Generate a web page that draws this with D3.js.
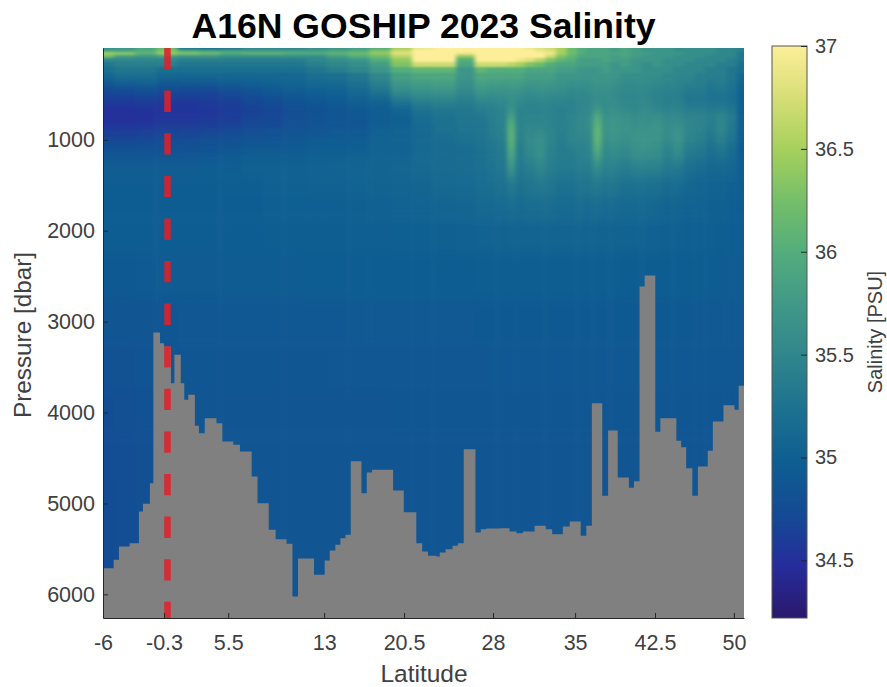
<!DOCTYPE html>
<html>
<head>
<meta charset="utf-8">
<script src="https://cdn.jsdelivr.net/npm/d3@7"></script>
<style>
    html, body { margin: 0; padding: 0; background: #fff; }
    svg { display: block; }
    text { font-family: "Liberation Sans", Arial, sans-serif; }
</style>
</head>
<body>
<div id="chart"></div>
<script>
// bottom of the section, step by step (station number, pressure of the sea floor)
var bathyStation = [0, 2, 3, 5, 6.75, 7.5, 8.8, 9.45, 10.7, 11.45, 12.75, 13.4, 14.6, 15.25, 16, 17.25, 18, 19.1, 21.3, 22.4, 24.45, 25.7, 27.9, 29, 31.1, 32.4, 34.45, 35.55, 36.6, 39.6, 41.6, 42.55, 43.6, 44.55, 45.5, 46.5, 48.5, 49.5, 50.5, 54.45, 56.45, 58.8, 59.9, 61, 62.6, 63.2, 64.3, 65.6, 66.6, 67.7, 69.9, 70.9, 71.95, 74.45, 76.3, 77.6, 78.8, 81, 83.1, 84.3, 86.3, 87.6, 89.65, 90.7, 91.75, 93.7, 94.8, 96.6, 98.7, 99.65, 100.7, 101.65, 103.65, 104.6, 107.6, 108.5, 109.45, 110.6, 111.65, 113.5, 114.45, 116.45, 118.5, 119.3, 120.3];
var bathyPressure = [5712, 5620, 5473, 5437, 5088, 5004, 4777, 3119, 3237, 3273, 3677, 3365, 3677, 3860, 3805, 4146, 4227, 4062, 4117, 4318, 4355, 4428, 4703, 4997, 5290, 5393, 5444, 6024, 5606, 5785, 5627, 5518, 5455, 5382, 5345, 4535, 4887, 4659, 4630, 4857, 5096, 5437, 5528, 5576, 5584, 5540, 5503, 5466, 5437, 4403, 5320, 5283, 5276, 5272, 5309, 5327, 5309, 5246, 5283, 5338, 5254, 5198, 5356, 5246, 3897, 4916, 4197, 4715, 4828, 4755, 2613, 2492, 4212, 4062, 4311, 4381, 4612, 4916, 4593, 4421, 4098, 3919, 3970, 3706, 3706];

// x axis runs on station number, so the latitude labels are not evenly spaced
var tickStations = [0, 11.45, 23.5, 41.5, 56.5, 73.2, 88.6, 103.6, 118.4];
var latLabels = ["-6", "-0.3", "5.5", "13", "20.5", "28", "35", "42.5", "50"];
var pressureTicks = [1000, 2000, 3000, 4000, 5000, 6000];
var salinityTicks = [34.5, 35, 35.5, 36, 36.5, 37];
var equatorStation = 12.1;

// cmocean haline like colours, bottom to top of the colorbar
var colorStops = ["#2a186c", "#262c9c", "#144a94", "#0e5e92", "#1c7190", "#2f858c", "#3f9888", "#52ac7c", "#74be6a", "#a6d05c", "#d6de76", "#fdee99"];

var stationColumns = [0, 4, 8, 12, 16, 20, 24, 28, 32, 36, 40, 44, 48, 52, 56, 60, 64, 68.5, 71, 73, 75, 76.6, 78.2, 80, 82, 84, 86, 88, 90, 91.2, 92.8, 94.4, 96, 98, 100, 102, 104, 106, 108, 110, 112, 114, 116, 118, 120];
var pressureLevels = [0, 20, 50, 80, 120, 170, 230, 300, 400, 500, 600, 700, 800, 900, 1000, 1150, 1300, 1500, 1750, 2000, 2500, 3000, 3500, 4000, 4500, 5000, 6200];

// one row per pressure level, one value per station column
var salinity = [
    [35.6,35.7,35.9,36.2,35.3, 35.2,35.3,35.5,35.5,35.5, 35.6,35.7,35.8,36.0,36.5, 36.9,37,37,37,37, 37,37,37,36.9,36.8, 36.7,36.5,36.2,36.0,35.9, 35.9,35.9,35.8,35.9,35.8, 35.7,35.7,35.7,35.6,35.6, 35.6,35.6,35.5,35.5,35.4],
    [35.9,35.9,36.0,36.3,36.0, 35.9,35.9,35.8,35.8,35.8, 35.8,35.9,36.0,36.3,36.7, 37,37,37,37,37, 37,37,37,37,36.9, 36.8,36.5,36.2,36.0,35.9, 35.9,35.9,35.8,35.9,35.8, 35.7,35.7,35.7,35.6,35.6, 35.6,35.6,35.5,35.5,35.4],
    [36.5,36.4,36.1,36.4,36.3, 36.2,36.0,36.1,36.1,36.0, 36.0,36.1,36.2,36.4,36.8, 37,37,36.9,37,37, 37,37,37,37,37, 36.9,36.5,36.2,36.0,35.9, 35.9,35.9,35.9,35.9,35.8, 35.8,35.7,35.7,35.7,35.6, 35.6,35.6,35.5,35.5,35.3],
    [36.2,35.8,35.7,35.8,35.7, 35.7,35.6,35.6,35.6,35.6, 35.6,35.8,36.0,36.2,36.6, 37,37,36.4,37,37, 37,37,37,37,37, 36.7,36.3,36.1,35.9,35.9, 35.9,35.9,35.8,35.9,35.8, 35.7,35.7,35.7,35.6,35.6, 35.6,35.5,35.5,35.5,35.3],
    [35.5,35.5,35.5,35.5,35.4, 35.4,35.4,35.4,35.4,35.4, 35.5,35.6,35.7,36.0,36.4, 37,37,36.0,37,37, 37,37,36.9,36.8,36.6, 36.3,36.1,36.0,35.8,35.8, 35.8,35.9,35.8,35.8,35.7, 35.7,35.7,35.6,35.6,35.6, 35.5,35.5,35.5,35.4,35.3],
    [35.3,35.4,35.4,35.4,35.3, 35.3,35.3,35.3,35.3,35.3, 35.4,35.5,35.6,35.8,36.3, 36.7,36.7,35.9,36.7,36.7, 36.7,36.6,36.5,36.3,36.2, 36.0,35.9,35.9,35.8,35.8, 35.8,35.8,35.7,35.8,35.7, 35.6,35.7,35.6,35.6,35.5, 35.5,35.5,35.4,35.4,35.2],
    [35.2,35.3,35.3,35.2,35.2, 35.2,35.2,35.2,35.2,35.2, 35.3,35.4,35.5,35.7,36.0, 36.1,36.1,35.7,36.1,36.0, 36.0,36.0,36.0,35.9,35.9, 35.9,35.8,35.8,35.7,35.7, 35.7,35.8,35.7,35.7,35.7, 35.6,35.6,35.6,35.5,35.5, 35.5,35.4,35.4,35.3,35.2],
    [35.1,35.2,35.2,35.1,35.1, 35.1,35.1,35.1,35.1,35.1, 35.2,35.2,35.3,35.5,35.8, 35.9,35.9,35.7,35.9,35.9, 35.9,35.9,35.9,35.8,35.8, 35.8,35.7,35.7,35.7,35.7, 35.7,35.7,35.7,35.6,35.6, 35.6,35.6,35.5,35.5,35.5, 35.4,35.4,35.4,35.3,35.1],
    [34.85,34.9,34.95,34.85,34.85, 34.85,34.9,34.95,35.0,35.05, 35.1,35.1,35.2,35.4,35.7, 35.75,35.8,35.6,35.8,35.75, 35.75,35.75,35.75,35.7,35.7, 35.7,35.65,35.6,35.6,35.6, 35.65,35.65,35.6,35.55,35.55, 35.55,35.5,35.5,35.45,35.4, 35.4,35.3,35.35,35.25,35.05],
    [34.68,34.68,34.72,34.68,34.65, 34.65,34.7,34.78,34.85,34.9, 34.95,35.0,35.1,35.2,35.5, 35.6,35.6,35.5,35.65,35.6, 35.6,35.65,35.6,35.55,35.6, 35.55,35.55,35.5,35.5,35.55, 35.6,35.6,35.55,35.5,35.5, 35.5,35.45,35.4,35.4,35.3, 35.3,35.25,35.25,35.2,35.0],
    [34.55,34.55,34.6,34.55,34.55, 34.58,34.62,34.68,34.72,34.8, 34.85,34.9,34.95,35.0,35.2, 35.35,35.4,35.35,35.45,35.45, 35.5,35.55,35.5,35.45,35.45, 35.45,35.45,35.45,35.5,35.5, 35.55,35.55,35.55,35.5,35.5, 35.5,35.45,35.4,35.4,35.3, 35.3,35.25,35.25,35.2,35.0],
    [34.5,34.5,34.5,34.52,34.52, 34.56,34.58,34.66,34.68,34.78, 34.8,34.85,34.9,34.95,35.0, 35.2,35.25,35.3,35.35,35.4, 35.45,35.7,35.45,35.45,35.45, 35.45,35.4,35.45,35.5,35.55, 35.8,35.6,35.65,35.6,35.55, 35.6,35.55,35.5,35.5,35.45, 35.45,35.4,35.45,35.35,35.0],
    [34.5,34.5,34.52,34.56,34.56, 34.58,34.62,34.68,34.72,34.78, 34.85,34.85,34.85,34.95,35.0, 35.12,35.22,35.27,35.27,35.37, 35.42,35.95,35.42,35.47,35.47, 35.42,35.42,35.47,35.52,35.6, 36.05,35.65,35.7,35.65,35.6, 35.6,35.65,35.55,35.55,35.5, 35.45,35.4,35.5,35.35,35.0],
    [34.6,34.6,34.62,34.66,34.66, 34.68,34.72,34.78,34.78,34.85, 34.85,34.9,34.9,35.0,35.05, 35.12,35.22,35.27,35.27,35.37, 35.42,36.05,35.47,35.52,35.52, 35.47,35.42,35.47,35.52,35.55, 36.1,35.65,35.7,35.65,35.65, 35.65,35.7,35.6,35.65,35.5, 35.45,35.35,35.5,35.3,35.0],
    [34.72,34.72,34.74,34.75,34.76, 34.8,34.82,34.85,34.88,34.9, 34.95,34.95,34.95,35.05,35.05, 35.12,35.17,35.22,35.27,35.32, 35.37,36.05,35.42,35.57,35.62, 35.47,35.37,35.47,35.47,35.52, 36.1,35.62,35.67,35.62,35.67, 35.7,35.65,35.55,35.65,35.45, 35.4,35.3,35.4,35.25,34.97],
    [34.85,34.85,34.85,34.85,34.87, 34.88,34.92,34.95,34.95,34.95, 35.0,35.0,35.02,35.05,35.05, 35.12,35.17,35.17,35.22,35.27, 35.32,35.9,35.37,35.52,35.62, 35.42,35.37,35.37,35.42,35.47, 35.9,35.52,35.57,35.52,35.62, 35.62,35.6,35.45,35.55,35.35, 35.3,35.2,35.25,35.15,34.97],
    [34.95,34.95,34.95,34.95,34.95, 34.97,34.98,35.02,35.02,35.02, 35.03,35.04,35.05,35.06,35.08, 35.12,35.14,35.18,35.2,35.25, 35.28,35.65,35.32,35.38,35.47, 35.38,35.33,35.33,35.37,35.37, 35.55,35.42,35.42,35.37,35.42, 35.42,35.42,35.32,35.32,35.2, 35.15,35.1,35.1,35.08,34.97],
    [34.97,34.97,34.97,34.97,34.97, 34.97,34.98,34.98,35.02,35.02, 35.03,35.03,35.04,35.05,35.06, 35.08,35.12,35.14,35.18,35.2, 35.23,35.32,35.24,35.28,35.32, 35.28,35.23,35.23,35.28,35.28, 35.32,35.28,35.28,35.23,35.23, 35.22,35.22,35.17,35.16,35.1, 35.06,35.05,35.05,35.02,34.97],
    [34.97,34.97,34.97,34.97,34.97, 34.97,34.97,34.97,35.0,35.0, 35.0,35.0,35.02,35.03,35.04, 35.05,35.07,35.08,35.12,35.13, 35.14,35.18,35.14,35.18,35.18, 35.18,35.14,35.14,35.18,35.14, 35.18,35.14,35.14,35.12,35.12, 35.12,35.1,35.06,35.06,35.04, 35.04,35.02,35.02,34.98,34.96],
    [34.96,34.96,34.96,34.96,34.96, 34.97,34.97,34.97,34.98,34.98, 34.98,34.98,34.99,34.99,35.0, 35.0,35.02,35.03,35.04,35.05, 35.05,35.06,35.06,35.06,35.06, 35.06,35.06,35.06,35.06,35.06, 35.05,35.05,35.05,35.04,35.04, 35.03,35.03,35.02,35.01,35.0, 35.0,34.99,34.98,34.97,34.96],
    [34.92,34.92,34.93,34.94,34.94, 34.94,34.95,34.95,34.95,34.95, 34.96,34.96,34.96,34.96,34.97, 34.97,34.97,34.97,34.98,34.98, 34.98,34.98,34.98,34.98,34.98, 34.98,34.98,34.98,34.98,34.98, 34.98,34.98,34.98,34.97,34.97, 34.97,34.97,34.97,34.96,34.96, 34.96,34.96,34.95,34.95,34.95],
    [34.86,34.86,34.87,34.88,34.89, 34.89,34.9,34.9,34.9,34.9, 34.9,34.9,34.91,34.91,34.91, 34.91,34.91,34.91,34.92,34.92, 34.92,34.92,34.92,34.92,34.92, 34.92,34.92,34.92,34.92,34.92, 34.92,34.92,34.92,34.92,34.92, 34.92,34.92,34.92,34.92,34.92, 34.91,34.91,34.91,34.91,34.91],
    [34.82,34.83,34.85,34.87,34.88, 34.88,34.88,34.88,34.88,34.88, 34.88,34.89,34.89,34.89,34.89, 34.89,34.89,34.89,34.89,34.9, 34.9,34.9,34.9,34.9,34.9, 34.9,34.9,34.9,34.9,34.9, 34.9,34.9,34.9,34.9,34.9, 34.9,34.9,34.9,34.9,34.9, 34.9,34.9,34.9,34.9,34.9],
    [34.78,34.79,34.82,34.86,34.87, 34.87,34.87,34.87,34.87,34.87, 34.87,34.87,34.87,34.87,34.88, 34.88,34.88,34.88,34.88,34.88, 34.88,34.88,34.88,34.88,34.88, 34.88,34.88,34.88,34.88,34.88, 34.88,34.88,34.88,34.88,34.88, 34.88,34.88,34.88,34.88,34.88, 34.88,34.88,34.88,34.88,34.88],
    [34.76,34.76,34.8,34.85,34.86, 34.86,34.86,34.86,34.86,34.86, 34.86,34.86,34.86,34.86,34.86, 34.86,34.86,34.86,34.86,34.86, 34.86,34.86,34.86,34.86,34.86, 34.86,34.86,34.86,34.86,34.86, 34.86,34.86,34.86,34.86,34.86, 34.86,34.86,34.86,34.86,34.86, 34.86,34.86,34.86,34.86,34.86],
    [34.75,34.76,34.8,34.85,34.86, 34.86,34.86,34.86,34.86,34.86, 34.86,34.86,34.86,34.86,34.86, 34.86,34.86,34.86,34.86,34.86, 34.86,34.86,34.86,34.86,34.86, 34.86,34.86,34.86,34.86,34.86, 34.86,34.86,34.86,34.86,34.86, 34.86,34.86,34.86,34.86,34.86, 34.86,34.86,34.86,34.86,34.86],
    [34.75,34.76,34.8,34.85,34.86, 34.86,34.86,34.86,34.86,34.86, 34.86,34.86,34.86,34.86,34.86, 34.86,34.86,34.86,34.86,34.86, 34.86,34.86,34.86,34.86,34.86, 34.86,34.86,34.86,34.86,34.86, 34.86,34.86,34.86,34.86,34.86, 34.86,34.86,34.86,34.86,34.86, 34.86,34.86,34.86,34.86,34.86]
];

var width = 887, height = 687;
var plot = { left: 103, right: 744, top: 48, bottom: 618 };
var bar = { left: 772, right: 807, top: 46, bottom: 618 };
var shallowLimit = 300; // above this level the rows are thin and get less blur

var x = d3.scaleLinear().domain([0, 120.3]).range([plot.left, plot.right]);
var y = d3.scaleLinear().domain([-10, 6260]).range([plot.top, plot.bottom]);
var barScale = d3.scaleLinear().domain([34.22, 37]).range([bar.bottom, bar.top]);

var color = d3.scaleLinear()
    .domain(d3.range(colorStops.length).map(function(i) { return 34.22 + (37 - 34.22) * i / (colorStops.length - 1); }))
    .range(colorStops)
    .clamp(true);

var svg = d3.select("#chart").append("svg")
    .attr("width", width)
    .attr("height", height);

var defs = svg.append("defs");
defs.append("clipPath").attr("id", "plotClip")
    .append("rect")
    .attr("x", plot.left).attr("y", plot.top)
    .attr("width", plot.right - plot.left).attr("height", plot.bottom - plot.top);
defs.append("clipPath").attr("id", "shallowClip")
    .append("rect")
    .attr("x", plot.left).attr("y", plot.top)
    .attr("width", plot.right - plot.left).attr("height", y(shallowLimit) - plot.top);

// the original is a smoothed image, so soften the cell edges
function blurFilter(id, dev) {
    defs.append("filter").attr("id", id)
        .attr("color-interpolation-filters", "sRGB")
        .attr("x", "-5%").attr("y", "-5%").attr("width", "110%").attr("height", "110%")
        .append("feGaussianBlur").attr("stdDeviation", dev);
}
blurFilter("softDeep", "2.2 6");
blurFilter("softTop", "2.2 0.9");

var barGrad = defs.append("linearGradient").attr("id", "barGrad")
    .attr("x1", 0).attr("x2", 0).attr("y1", 1).attr("y2", 0);
colorStops.forEach(function(c, i) {
    barGrad.append("stop")
        .attr("offset", i / (colorStops.length - 1))
        .attr("stop-color", c);
});

// cell edges sit half way between neighbouring columns and levels
function edges(centers, before, after) {
    var e = [before];
    for (var i = 1; i < centers.length; i++) e.push((centers[i - 1] + centers[i]) / 2);
    e.push(after);
    return e;
}
var xEdges = edges(stationColumns, -6, 126);
var yEdges = edges(pressureLevels, -100, 6500);

var cells = [];
salinity.forEach(function(row, r) {
    row.forEach(function(v, c) { cells.push({ r: r, c: c, v: v }); });
});

function drawCells(parent, data) {
    parent.selectAll("rect")
        .data(data)
        .enter()
        .append("rect")
        .attr("x", function(d) { return x(xEdges[d.c]); })
        .attr("y", function(d) { return y(yEdges[d.r]); })
        .attr("width", function(d) { return x(xEdges[d.c + 1]) - x(xEdges[d.c]) + 0.5; })
        .attr("height", function(d) { return y(yEdges[d.r + 1]) - y(yEdges[d.r]) + 0.5; })
        .attr("fill", function(d) { return color(d.v); });
}

var plotG = svg.append("g").attr("clip-path", "url(#plotClip)");

drawCells(plotG.append("g").attr("filter", "url(#softDeep)"), cells);
drawCells(
    plotG.append("g").attr("clip-path", "url(#shallowClip)")
        .append("g").attr("filter", "url(#softTop)"),
    cells.filter(function(d) { return pressureLevels[d.r] <= shallowLimit + 100; })
);

// sea floor
var floor = d3.area()
    .x(function(d) { return x(d.s); })
    .y0(plot.bottom)
    .y1(function(d) { return y(d.p); })
    .curve(d3.curveStepAfter);

plotG.append("path")
    .datum(bathyStation.map(function(s, i) { return { s: s, p: bathyPressure[i] }; }))
    .attr("d", floor)
    .attr("fill", "#808080");

// equator marker
plotG.append("line")
    .attr("x1", x(equatorStation)).attr("x2", x(equatorStation))
    .attr("y1", plot.top).attr("y2", plot.bottom)
    .attr("stroke", "#e0202a")
    .attr("stroke-opacity", 0.88)
    .attr("stroke-width", 6.5)
    .attr("stroke-dasharray", "21.3 21.3");

// axes
var xAxis = d3.axisBottom(x)
    .tickValues(tickStations)
    .tickFormat(function(d, i) { return latLabels[i]; })
    .tickSizeInner(-5)
    .tickSizeOuter(0)
    .tickPadding(17);

var yAxis = d3.axisLeft(y)
    .tickValues(pressureTicks)
    .tickFormat(d3.format("d"))
    .tickSizeInner(-5)
    .tickSizeOuter(0)
    .tickPadding(8);

var barAxis = d3.axisRight(barScale)
    .tickValues(salinityTicks)
    .tickFormat(function(d) { return String(d); })
    .tickSizeInner(-6)
    .tickSizeOuter(0)
    .tickPadding(8);

function styleAxis(g, size) {
    g.selectAll("path.domain").attr("stroke", "#262626").attr("stroke-width", 1);
    g.selectAll(".tick line").attr("stroke", "#262626").attr("stroke-width", 1);
    g.selectAll("text")
        .attr("font-family", "Liberation Sans")
        .attr("font-size", size)
        .attr("fill", "#404040");
}

var gx = svg.append("g").attr("transform", "translate(0," + plot.bottom + ")").call(xAxis);
styleAxis(gx, 21.5);
var gy = svg.append("g").attr("transform", "translate(" + plot.left + ",0)").call(yAxis);
styleAxis(gy, 21.5);

// colorbar
svg.append("rect")
    .attr("x", bar.left).attr("y", bar.top)
    .attr("width", bar.right - bar.left).attr("height", bar.bottom - bar.top)
    .attr("fill", "url(#barGrad)")
    .attr("stroke", "#555")
    .attr("stroke-width", 1);

var gb = svg.append("g").attr("transform", "translate(" + bar.right + ",0)").call(barAxis);
styleAxis(gb, 20);
gb.select("path.domain").remove();

// titles
svg.append("text")
    .attr("x", 423.5).attr("y", 38)
    .attr("text-anchor", "middle")
    .attr("font-size", 35.6)
    .attr("font-weight", "bold")
    .attr("fill", "#000")
    .text("A16N GOSHIP 2023 Salinity");

svg.append("text")
    .attr("x", 424).attr("y", 682)
    .attr("text-anchor", "middle")
    .attr("font-size", 24.5)
    .attr("fill", "#404040")
    .text("Latitude");

svg.append("text")
    .attr("transform", "translate(31,335) rotate(-90)")
    .attr("text-anchor", "middle")
    .attr("font-size", 24.3)
    .attr("fill", "#404040")
    .text("Pressure [dbar]");

svg.append("text")
    .attr("transform", "translate(882,332) rotate(-90)")
    .attr("text-anchor", "middle")
    .attr("font-size", 20)
    .attr("fill", "#404040")
    .text("Salinity [PSU]");
</script>
</body>
</html>
